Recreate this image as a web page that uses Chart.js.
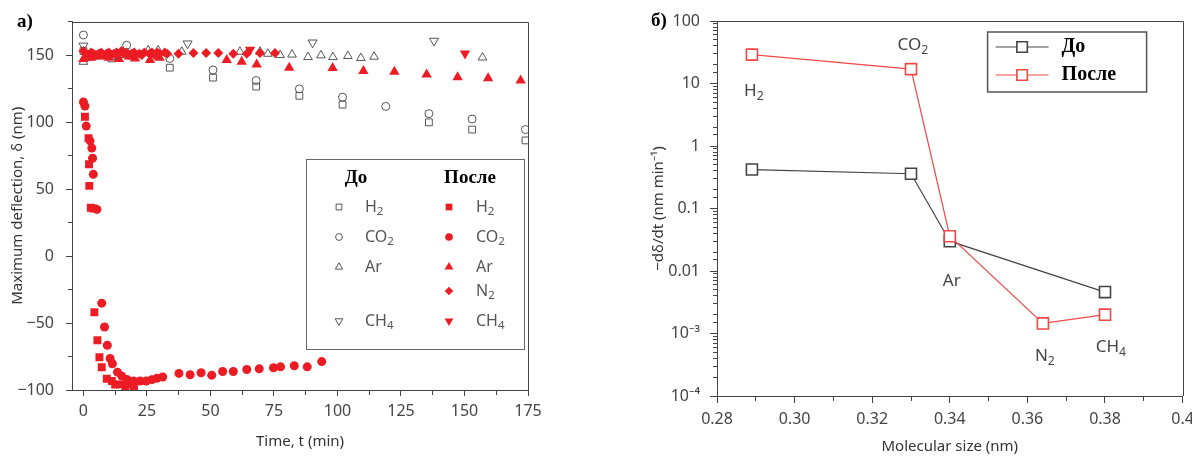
<!DOCTYPE html>
<html>
<head>
<meta charset="utf-8">
<script src="https://cdn.jsdelivr.net/npm/chart.js@4/dist/chart.umd.min.js"></script>
<style>
  html, body { margin: 0; padding: 0; background: #fff; }
  #wrap { position: relative; width: 1192px; height: 458px; }
  canvas { position: absolute; top: 0; }
  #left { left: 0; }
  #right { left: 600px; }
</style>
</head>
<body>
<div id="wrap">
  <canvas id="left" width="560" height="458"></canvas>
  <canvas id="right" width="592" height="458"></canvas>
</div>
<script>
const SANS = '"Noto Sans", "Open Sans", "DejaVu Sans", sans-serif';
const SERIF = '"Liberation Serif", "DejaVu Serif", serif';
const INK = '#444';
const GRAY = '#555';
const RED = '#ec1c24';
const RED_LINE = '#f04848';

// ---- panel a): maximum deflection vs time, [t (min), deflection (nm)] ----
const gases = ['H2', 'CO2', 'Ar', 'N2', 'CH4'];
const timeTicks = ['0', '25', '50', '75', '100', '125', '150', '175'];
const deflTicks = ['\u2212100', '\u221250', '0', '50', '100', '150'];

// before (open grey markers)
const beforeH2 = [[0, 153], [11, 147.5], [34, 140.6], [51, 133.2], [68, 126.5], [85, 119.6],
  [102, 113], [136, 99.8], [153, 94.4], [174, 86.3]];
const beforeCO2 = [[0, 165], [17, 157.4], [34, 147.5], [51, 138.9], [68, 131], [85, 124.8],
  [102, 118.6], [119, 111.7], [136, 106.3], [153, 102.3], [174, 94.4]];
const beforeAr = [[0, 145], [2, 148], [5, 149], [8, 149.5], [11.2, 148.7], [14, 150], [20, 150.5],
  [25.5, 153.5], [29.4, 153.5], [38.7, 152.5], [61.6, 152.5], [69.5, 152.5], [72.6, 151],
  [77.4, 150], [82.1, 150.4], [88.4, 148.5], [93.5, 149.8], [98.2, 148.5], [104.1, 149.3],
  [109.2, 147.8], [114.4, 148.8], [157.1, 148.2]];
const beforeCH4 = [[0, 157], [41, 158.6], [90.2, 159.3], [138, 160.6]];

// after (filled red markers)
const afterH2 = [[0.6, 104], [2, 88], [2.2, 68.5], [2.3, 52.4], [2.9, 36], [4, 35.5],
  [4.3, -41.9], [5.5, -62.9], [6.3, -75.6], [7.2, -83], [9.2, -91.6], [11.2, -93.3],
  [12.5, -96], [14.4, -95.8], [16.5, -97], [18, -96], [19.9, -97.5]];
const afterCO2 = [[0, 115], [0.6, 112], [1.1, 97], [2.6, 86], [3.3, 80.6], [3.6, 73], [3.9, 61],
  [5.3, 34.8], [7.2, -35.2], [8.3, -53], [9.4, -66.6], [10.5, -76.5], [11.4, -80.4],
  [13.4, -86.7], [15.1, -89.6], [17.1, -92.1], [19.7, -93.3], [22.3, -93.3], [24.7, -93.3],
  [26.9, -92.3], [28.9, -91.3], [31.2, -90.3], [37.6, -87.6], [42, -88.6], [46.3, -87.1],
  [50.5, -88.9], [54.8, -86.2], [59, -86.2], [64.3, -84.7], [69.2, -84.2], [74.8, -83.4],
  [77.6, -82.7], [83, -81.9], [88.1, -82.7], [93.8, -78.8]];
const afterAr = [[0, 147], [3, 148], [6, 149], [10, 148], [14, 147], [18, 149], [20.3, 147.5],
  [26.2, 146.3], [30, 148], [56.4, 146.3], [62.3, 145], [68.2, 143], [81, 140.6], [98.1, 140.3],
  [110.2, 138.1], [122.4, 137.6], [135.1, 135.6], [147.3, 133.4], [159.3, 132.7], [172.1, 131]];
const afterN2 = [[0, 153], [1, 151], [2, 150], [3, 152], [4, 151], [5, 150], [6, 151], [7, 152],
  [8, 150], [9, 151], [10, 152], [11, 150], [12, 151], [13, 152], [14, 151], [15, 153], [16, 151],
  [17, 152], [18, 150], [19, 151], [20, 152], [22, 151], [23, 150], [24, 152], [26, 151],
  [27, 152], [28, 150], [29, 152], [30, 151], [32, 152], [33, 151], [37.4, 151], [43.3, 151.5],
  [48.3, 151.5], [53.1, 151.5], [59, 151], [64.3, 151], [69.5, 151.5], [75.4, 151.5]];
const afterCH4 = [[65.6, 154], [150.2, 151.2]];

// ---- panel б): deflection rate vs molecular size ----
const sizeBefore = [0.289, 0.33, 0.34, 0.38];
const rateBefore = [0.42, 0.36, 0.030, 0.0046];
const sizeAfter = [0.289, 0.33, 0.34, 0.364, 0.38];
const rateAfter = [29, 17, 0.036, 0.00145, 0.0020];
const sizeTicks = ['0.28', '0.30', '0.32', '0.34', '0.36', '0.38', '0.4'];
const rateTicks = ['10\u207B\u2074', '10\u207B\u00B3', '0.01', '0.1', '1', '10', '100'];
const rateGas = ['H2', 'CO2', 'Ar', 'N2', 'CH4'];
const rateGasX = [0.2895, 0.3305, 0.3405, 0.3645, 0.3815];
const rateGasY = [7.5, 41, 0.0069, 0.00044, 0.00060];

const pts = arr => arr.map(([x, y]) => ({ x, y }));

// chemical formula: digits as subscripts
function chemText(ctx, txt, x, y, size, align, color) {
  const parts = txt.match(/\d+|\D+/g);
  const sub = size * 0.72;
  const fontFor = p => (/\d/.test(p) ? sub : size) + 'px ' + SANS;
  let w = 0;
  parts.forEach(p => { ctx.font = fontFor(p); w += ctx.measureText(p).width; });
  let cx = align === 'center' ? x - w / 2 : x;
  ctx.fillStyle = color;
  ctx.textAlign = 'left';
  ctx.textBaseline = 'middle';
  parts.forEach(p => {
    ctx.font = fontFor(p);
    ctx.fillText(p, cx, y + (/\d/.test(p) ? size * 0.32 : 0));
    cx += ctx.measureText(p).width;
  });
}

const framePlugin = {
  id: 'frame',
  afterDraw(chart) {
    const { ctx, chartArea: a } = chart;
    ctx.save();
    ctx.strokeStyle = INK;
    ctx.lineWidth = 1;
    ctx.beginPath();
    ctx.moveTo(Math.round(a.left), Math.round(a.top) + 0.5);
    ctx.lineTo(Math.round(a.right) + 0.5, Math.round(a.top) + 0.5);
    ctx.lineTo(Math.round(a.right) + 0.5, Math.round(a.bottom));
    ctx.stroke();
    ctx.restore();
  }
};

const panelLabel = {
  id: 'panelLabel',
  afterDraw(chart, args, opts) {
    const ctx = chart.ctx;
    ctx.save();
    ctx.font = 'bold 19px ' + SERIF;
    ctx.fillStyle = '#000';
    ctx.textAlign = 'center';
    ctx.textBaseline = 'middle';
    ctx.fillText(opts.text, opts.x, opts.y);
    ctx.restore();
  }
};

function drawMark(ctx, ds, x, y, scale) {
  ctx.fillStyle = ds.pointBackgroundColor;
  ctx.strokeStyle = ds.pointBorderColor;
  ctx.lineWidth = ds.pointBorderWidth;
  Chart.helpers.drawPoint(ctx, {
    pointStyle: ds.pointStyle, rotation: ds.pointRotation || 0,
    radius: ds.pointRadius * scale, borderWidth: ds.pointBorderWidth
  }, x, y);
}

// two-column legend of panel a)
const gasLegend = {
  id: 'gasLegend',
  afterDraw(chart) {
    const { ctx, chartArea: a } = chart;
    const w = 218, h = 190;
    const x0 = a.right - 4 - w, y0 = a.bottom - 41 - h;
    const rowY = [48, 78, 108, 132, 162];
    ctx.save();
    ctx.fillStyle = '#fff';
    ctx.fillRect(x0, y0, w, h);
    ctx.strokeStyle = '#666';
    ctx.lineWidth = 1;
    ctx.strokeRect(Math.round(x0) + 0.5, Math.round(y0) + 0.5, w, h);
    ctx.font = 'bold 19px ' + SERIF;
    ctx.fillStyle = '#000';
    ctx.textAlign = 'center';
    ctx.textBaseline = 'middle';
    ctx.fillText('До', x0 + 50, y0 + 19);
    ctx.fillText('После', x0 + 164, y0 + 19);
    chart.data.datasets.forEach(ds => {
      const after = ds.group === 'after';
      const y = y0 + rowY[ds.row];
      drawMark(ctx, ds, x0 + (after ? 143 : 33), y, 0.85);
      chemText(ctx, gases[ds.row], x0 + (after ? 170 : 59), y, 16, 'left', GRAY);
    });
    ctx.restore();
  }
};

const openMark = (data, row, style, r, rot) => ({
  data: pts(data), group: 'before', row, pointStyle: style, pointRotation: rot || 0,
  pointRadius: r, pointBorderWidth: 1, pointBorderColor: GRAY,
  pointBackgroundColor: 'rgba(255,255,255,0)', showLine: false
});
const fillMark = (data, row, style, r, rot) => ({
  data: pts(data), group: 'after', row, pointStyle: style, pointRotation: rot || 0,
  pointRadius: r, pointBorderWidth: 0, pointBorderColor: RED,
  pointBackgroundColor: RED, showLine: false
});

const tickFont = { family: SANS, size: 16 };
const titleFont = { family: SANS, size: 15 };

new Chart(document.getElementById('left'), {
  type: 'scatter',
  data: {
    datasets: [
      fillMark(afterN2, 3, 'rectRot', 5),
      fillMark(afterAr, 2, 'triangle', 6),
      fillMark(afterCH4, 4, 'triangle', 6, 180),
      fillMark(afterCO2, 1, 'circle', 4.5),
      fillMark(afterH2, 0, 'rect', 5.6),
      openMark(beforeH2, 0, 'rect', 4.8),
      openMark(beforeCO2, 1, 'circle', 4),
      openMark(beforeAr, 2, 'triangle', 5),
      openMark(beforeCH4, 4, 'triangle', 5.2, 180)
    ]
  },
  options: {
    responsive: false,
    animation: false,
    events: [],
    layout: { padding: { left: 5, right: 32, top: 20, bottom: 0 } },
    plugins: {
      legend: { display: false },
      tooltip: { enabled: false },
      panelLabel: { text: 'a)', x: 25, y: 22 }
    },
    scales: {
      x: {
        type: 'linear', min: -4.5, max: 175,
        afterFit: s => { s.height = 68; s.paddingRight = 0; },
        grid: {
          drawOnChartArea: false, tickLength: 6, color: INK,
          tickBorderDash: c => (Math.round(c.tick.value / 12.5) % 2 ? [4, 20] : [])
        },
        border: { color: INK },
        ticks: {
          stepSize: 12.5, includeBounds: false, autoSkip: false, maxRotation: 0,
          padding: 6, font: tickFont, color: INK,
          callback: v => (Math.round(v / 12.5) % 2 ? '' : timeTicks[Math.round(v / 25)])
        },
        title: {
          display: true, text: 'Time, t (min)', font: titleFont, color: '#333',
          padding: { top: 0, bottom: 7 }
        }
      },
      y: {
        type: 'linear', min: -100, max: 175,
        afterFit: s => { s.width = 67; },
        grid: {
          drawOnChartArea: false, tickLength: 6, color: INK,
          tickBorderDash: c => (Math.round(c.tick.value / 25) % 2 ? [0, 2, 4, 20] : [])
        },
        border: { color: INK },
        ticks: {
          stepSize: 25, autoSkip: false, padding: 12, font: tickFont, color: INK,
          callback: v => (Math.round(v / 25) % 2 ? '' : deflTicks[Math.round((v + 100) / 50)])
        },
        title: {
          display: true, text: 'Maximum deflection, δ (nm)', font: titleFont, color: '#333',
          padding: { top: 4, bottom: 0 }
        }
      }
    }
  },
  plugins: [framePlugin, gasLegend, panelLabel]
});

// legend "—□— До / —□— После" of panel б)
const lineLegend = {
  id: 'lineLegend',
  afterDraw(chart) {
    const { ctx, chartArea: a } = chart;
    const w = 159, h = 60;
    const x0 = a.right - 36 - w, y0 = a.top + 11;
    ctx.save();
    ctx.fillStyle = '#fff';
    ctx.fillRect(x0, y0, w, h);
    ctx.strokeStyle = GRAY;
    ctx.lineWidth = 1.5;
    ctx.strokeRect(x0, y0, w, h);
    ['До', 'После'].forEach((name, i) => {
      const ds = chart.data.datasets.find(d => d.label === name);
      const y = y0 + 15 + i * 28;
      ctx.strokeStyle = ds.borderColor;
      ctx.lineWidth = ds.borderWidth;
      ctx.beginPath();
      ctx.moveTo(x0 + 8, y);
      ctx.lineTo(x0 + 61, y);
      ctx.stroke();
      drawMark(ctx, ds, x0 + 34.5, y, 0.95);
      ctx.font = 'bold 20px ' + SERIF;
      ctx.fillStyle = '#000';
      ctx.textAlign = 'left';
      ctx.textBaseline = 'middle';
      ctx.fillText(name, x0 + 74, y);
    });
    ctx.restore();
  }
};

const gasNames = {
  id: 'gasNames',
  afterDatasetsDraw(chart) {
    const { ctx, scales: { x, y } } = chart;
    ctx.save();
    rateGas.forEach((g, i) => {
      chemText(ctx, g, x.getPixelForValue(rateGasX[i]), y.getPixelForValue(rateGasY[i]), 17, 'center', INK);
    });
    ctx.restore();
  }
};

const isPow10 = v => Math.abs(Math.log10(v) - Math.round(Math.log10(v))) < 1e-6;

new Chart(document.getElementById('right'), {
  type: 'scatter',
  data: {
    datasets: [
      {
        label: 'После', data: sizeAfter.map((x, i) => ({ x, y: rateAfter[i] })), showLine: true,
        borderColor: RED_LINE, borderWidth: 1.2, pointStyle: 'rect', pointRadius: 7.8,
        pointBorderWidth: 1.6, pointBorderColor: RED_LINE, pointBackgroundColor: '#fff'
      },
      {
        label: 'До', data: sizeBefore.map((x, i) => ({ x, y: rateBefore[i] })), showLine: true,
        borderColor: INK, borderWidth: 1.2, pointStyle: 'rect', pointRadius: 7.8,
        pointBorderWidth: 1.6, pointBorderColor: INK, pointBackgroundColor: '#fff'
      }
    ]
  },
  options: {
    responsive: false,
    animation: false,
    events: [],
    layout: { padding: { left: 46, right: 8, top: 21, bottom: 1 } },
    plugins: {
      legend: { display: false },
      tooltip: { enabled: false },
      panelLabel: { text: 'б)', x: 59, y: 21 }
    },
    scales: {
      x: {
        type: 'linear', min: 0.28, max: 0.40,
        afterFit: s => { s.height = 61; s.paddingRight = 0; },
        grid: {
          drawOnChartArea: false, tickLength: 7, color: INK,
          tickBorderDash: c => (Math.round((c.tick.value - 0.28) / 0.01) % 2 ? [4, 20] : [])
        },
        border: { color: INK },
        ticks: {
          stepSize: 0.01, autoSkip: false, maxRotation: 0, padding: 7, font: tickFont, color: INK,
          callback: v => {
            const k = Math.round((v - 0.28) / 0.01);
            return k % 2 ? '' : sizeTicks[k / 2];
          }
        },
        title: {
          display: true, text: 'Molecular size (nm)', font: titleFont, color: '#333',
          padding: { top: 0, bottom: 1 }
        }
      },
      y: {
        type: 'logarithmic', min: 1e-4, max: 100,
        afterFit: s => { s.width = 71; },
        grid: {
          drawOnChartArea: false, tickLength: 7, color: INK,
          tickBorderDash: c => (isPow10(c.tick.value) ? [] : [0, 3, 4, 20])
        },
        border: { color: INK },
        ticks: {
          autoSkip: false, padding: 10, font: tickFont, color: INK,
          callback: v => (isPow10(v) ? rateTicks[Math.round(Math.log10(v)) + 4] : '')
        },
        title: {
          display: true, text: '\u2212dδ/dt (nm min\u207B\u00B9)', font: titleFont, color: '#333',
          padding: { top: 4, bottom: 0 }
        }
      }
    }
  },
  plugins: [framePlugin, gasNames, lineLegend, panelLabel]
});
</script>
</body>
</html>
